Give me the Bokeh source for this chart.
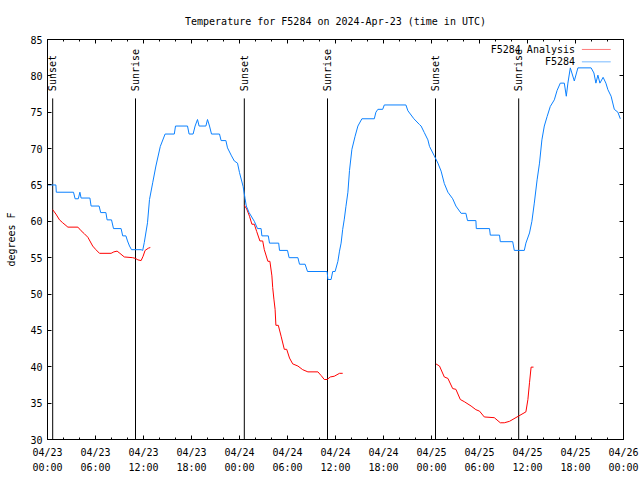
import math
from bokeh.plotting import figure
from bokeh.models import FixedTicker, LinearAxis, Label, BoxAnnotation
from bokeh.embed import file_html
from bokeh.resources import INLINE
from bokeh.core.properties import value

FONT = "DejaVu Sans Mono"

# ---- data: hours since 2024-04-23 00:00 UTC ----
obs_hours = [0.0, 1.05, 1.1, 3.25, 3.45, 3.85, 4.05, 4.2, 5.3, 5.45, 6.45, 6.65, 7.3, 7.45, 8.0, 8.25,
             9.2, 9.4, 9.8, 10.0, 10.25, 10.5, 11.7, 11.9, 12.1, 12.5, 12.75, 13.15, 13.55, 14.1, 14.7,
             15.85, 16.0, 17.5, 17.7, 18.2, 18.45, 18.75, 18.95, 19.8, 20.0, 20.25, 20.5, 21.5, 21.7,
             22.3, 22.5, 23.0, 23.35, 23.75, 24.0, 24.45, 24.7, 24.85, 25.2, 25.85, 26.25, 26.7, 26.8,
             27.6, 27.75, 28.9, 29.0, 30.0, 30.2, 31.3, 31.5, 32.2, 32.5, 34.95, 35.05, 35.45, 35.65,
             35.95, 36.3, 36.5, 36.7, 36.9, 37.1, 37.3, 37.55, 37.75, 38.05, 38.45, 38.8, 39.3, 40.85,
             41.05, 41.3, 41.9, 42.1, 44.8, 45.05, 45.8, 46.5, 46.7, 47.1, 47.55, 47.75, 48.35, 48.8,
             49.2, 49.6, 50.05, 50.65, 51.05, 51.7, 52.3, 52.5, 53.55, 53.6, 55.25, 55.35, 56.5, 56.6,
             58.15, 58.35, 59.6, 59.8, 60.25, 60.55, 60.85, 61.2, 61.5, 61.8, 62.1, 62.45, 62.85, 63.35,
             63.7, 64.1, 64.6, 64.85, 65.05, 65.35, 65.85, 66.3, 67.95, 68.3, 68.55, 68.8, 69.05, 69.45,
             69.8, 70.05, 70.45, 70.85, 71.3, 71.6]
obs_temps = [65.0, 65.0, 64.0, 64.0, 63.1, 63.1, 64.0, 63.2, 63.2, 62.1, 62.1, 61.2, 61.2, 60.2, 60.2, 59.0,
             59.0, 58.0, 58.0, 57.3, 56.6, 56.1, 56.1, 56.0, 57.1, 59.8, 63.0, 65.3, 67.6, 70.3, 72.0,
             72.0, 73.1, 73.1, 72.0, 72.0, 73.1, 74.0, 73.1, 73.1, 74.0, 73.1, 72.0, 72.0, 71.1,
             71.1, 70.1, 69.0, 68.3, 68.0, 66.7, 64.8, 63.1, 62.1, 61.2, 60.0, 59.0, 59.0, 58.0,
             58.0, 57.0, 57.0, 56.0, 56.0, 55.0, 55.0, 54.1, 54.1, 53.1, 53.1, 52.0, 52.0, 53.1,
             53.1, 54.5, 55.9, 57.0, 58.9, 60.3, 62.0, 64.0, 67.0, 69.9, 71.7, 73.1, 74.1, 74.1,
             75.0, 75.4, 75.4, 76.0, 76.0, 75.2, 74.1, 73.3, 73.1, 72.2, 71.2, 70.3, 69.0, 68.0,
             66.9, 65.2, 64.0, 63.1, 62.1, 61.1, 61.1, 60.1, 60.1, 59.0, 59.0, 58.1, 58.1, 57.2,
             57.2, 56.0, 56.0, 57.0, 58.4, 60.0, 62.5, 65.7, 68.0, 71.2, 73.1, 74.4, 75.8, 76.7,
             78.0, 79.0, 79.0, 77.2, 79.0, 81.1, 79.3, 81.1, 81.1, 80.4, 79.0, 80.1, 79.0, 79.8,
             79.0, 78.1, 77.2, 75.4, 75.0, 74.1]

ana1_hours = [0.65, 1.05, 1.5, 1.9, 2.55, 3.8, 4.2, 4.6, 5.05, 5.65, 6.05, 6.5, 7.95, 8.3, 8.7, 9.05,
              9.6, 10.65, 11.0, 11.3, 11.7, 11.95, 12.2, 12.6, 12.85]
ana1_temps = [61.6, 61.0, 60.2, 59.8, 59.2, 59.2, 58.7, 58.3, 57.8, 56.6, 56.1, 55.6, 55.6, 55.8, 55.9, 55.6,
              55.1, 55.0, 54.9, 54.7, 54.6, 55.2, 56.0, 56.3, 56.4]
ana2_hours = [24.6, 24.9, 25.25, 25.55, 25.85, 26.15, 26.55, 26.9, 27.1, 27.55, 27.8, 28.05, 28.15,
              28.3, 28.45, 28.55, 28.85, 29.2, 29.6, 29.9, 30.25, 30.65, 31.3, 31.9, 32.55, 33.8,
              34.2, 34.6, 34.95, 35.35, 35.85, 36.5, 36.9]
ana2_temps = [62.2, 61.7, 60.7, 59.6, 59.6, 58.6, 57.3, 57.3, 56.1, 54.5, 54.5, 52.5, 50.9,
              49.3, 47.9, 45.7, 45.7, 44.2, 42.4, 42.4, 41.2, 40.4, 40.1, 39.6, 39.3, 39.3,
              38.8, 38.25, 38.25, 38.6, 38.7, 39.1, 39.1]
ana3_hours = [48.55, 49.0, 49.6, 50.05, 50.65, 51.05, 51.6, 52.1, 52.95, 53.55, 54.0, 54.6, 55.85,
              56.6, 57.1, 57.75, 58.85, 59.8, 60.05, 60.25, 60.45, 60.75]
ana3_temps = [40.4, 40.1, 38.6, 38.4, 37.0, 36.9, 35.5, 35.2, 34.6, 34.1, 33.9, 33.1, 33.0,
              32.3, 32.3, 32.5, 33.2, 33.8, 35.5, 37.8, 39.95, 39.95]

event_hours = [0.65, 11.0, 24.6, 35.0, 48.5, 58.9]
event_labels = ["Sunset", "Sunrise", "Sunset", "Sunrise", "Sunset", "Sunrise"]

x_tick_hours = [0, 6, 12, 18, 24, 30, 36, 42, 48, 54, 60, 66, 72]
x_tick_labels = ["04/23\n00:00", "04/23\n06:00", "04/23\n12:00", "04/23\n18:00",
                 "04/24\n00:00", "04/24\n06:00", "04/24\n12:00", "04/24\n18:00",
                 "04/25\n00:00", "04/25\n06:00", "04/25\n12:00", "04/25\n18:00",
                 "04/26\n00:00"]
x_minor_hours = list(range(0, 73, 2))
y_ticks = [30, 35, 40, 45, 50, 55, 60, 65, 70, 75, 80, 85]

series_names = ["F5284 Analysis", "F5284"]
RED = "#ff0000"
BLUE = "#0a80ff"

# ---- layout constants ----
SUN_LINE_TOP = 76.9
SUN_LABEL_Y = 77.9
LEG_X_TEXT = 65.94
LEG_X0, LEG_X1 = 66.8, 70.4
LEG_Y = [83.63, 81.93]

p = figure(frame_width=576, frame_height=400, x_range=(0, 72), y_range=(30, 85),
           output_backend="svg", toolbar_location=None,
           min_border_left=47, min_border_right=17, min_border_top=0, min_border_bottom=24,
           title="Temperature for F5284 on 2024-Apr-23 (time in UTC)")
p.background_fill_color = "white"
p.border_fill_color = "white"
p.outline_line_color = "black"
p.xgrid.visible = False
p.ygrid.visible = False

p.title.text_font = FONT
p.title.text_font_size = "10px"
p.title.text_font_style = "normal"
p.title.align = "center"
p.title.text_color = "black"
try:
    p.title.padding = 4
    p.title.standoff = 18
except Exception:
    p.title.standoff = 26

def style_x(ax, labels=True):
    ax.ticker = FixedTicker(ticks=x_tick_hours, minor_ticks=x_minor_hours)
    ax.major_tick_in = 4
    ax.major_tick_out = 0
    ax.minor_tick_in = 2
    ax.minor_tick_out = 0
    ax.axis_line_color = "black"
    ax.major_tick_line_color = "black"
    ax.minor_tick_line_color = "black"
    if labels:
        ax.major_label_overrides = dict(zip(x_tick_hours, x_tick_labels))
        ax.major_label_text_font = FONT
        ax.major_label_text_font_size = "10px"
        ax.major_label_text_line_height = 1.4
        ax.major_label_text_color = "black"
        ax.major_label_standoff = 7
    else:
        ax.major_label_text_font_size = "1px"
        ax.major_label_text_color = None
        ax.major_label_standoff = 0

def style_y(ax, labels=True):
    ax.ticker = FixedTicker(ticks=y_ticks, minor_ticks=[])
    ax.major_tick_in = 4
    ax.major_tick_out = 0
    ax.minor_tick_in = 0
    ax.minor_tick_out = 0
    ax.axis_line_color = "black"
    ax.major_tick_line_color = "black"
    if labels:
        ax.major_label_text_font = FONT
        ax.major_label_text_font_size = "10px"
        ax.major_label_text_color = "black"
        ax.major_label_standoff = 5
    else:
        ax.major_label_text_font_size = "1px"
        ax.major_label_text_color = None
        ax.major_label_standoff = 0

style_x(p.xaxis[0])
style_y(p.yaxis[0])
p.yaxis[0].axis_label = "degrees F"
p.yaxis[0].axis_label_text_font = FONT
p.yaxis[0].axis_label_text_font_size = "10px"
p.yaxis[0].axis_label_text_font_style = "normal"
p.yaxis[0].axis_label_text_color = "black"
p.yaxis[0].axis_label_standoff = 10

top_ax = LinearAxis()
style_x(top_ax, labels=False)
p.add_layout(top_ax, "above")
right_ax = LinearAxis()
style_y(right_ax, labels=False)
p.add_layout(right_ax, "right")

# sunrise / sunset markers
n = len(event_hours)
p.segment(x0=event_hours, y0=[30] * n, x1=event_hours, y1=[SUN_LINE_TOP] * n,
          line_color="black", line_width=1)
p.text(x=event_hours, y=[SUN_LABEL_Y] * n, text=event_labels, angle=math.pi / 2,
       text_align="left", text_baseline="middle", text_font=value(FONT),
       text_font_size="10px", text_color="black")

# series
for hrs, tmps in [(ana1_hours, ana1_temps), (ana2_hours, ana2_temps), (ana3_hours, ana3_temps)]:
    p.line(hrs, tmps, line_color=RED, line_width=1)
p.line(obs_hours, obs_temps, line_color=BLUE, line_width=1)

# legend (gnuplot style: label then sample)
for name, col, ly in zip(series_names, [RED, BLUE], LEG_Y):
    p.add_layout(Label(x=LEG_X_TEXT, y=ly, text=name, text_align="right", text_baseline="middle",
                       text_font=FONT, text_font_size="10px", text_color="black"))
    p.add_layout(BoxAnnotation(left=LEG_X0, right=LEG_X1, top=ly, bottom=ly,
                               fill_alpha=0, line_color=col, line_width=1))

open("out.html", "w").write(file_html(p, INLINE))
